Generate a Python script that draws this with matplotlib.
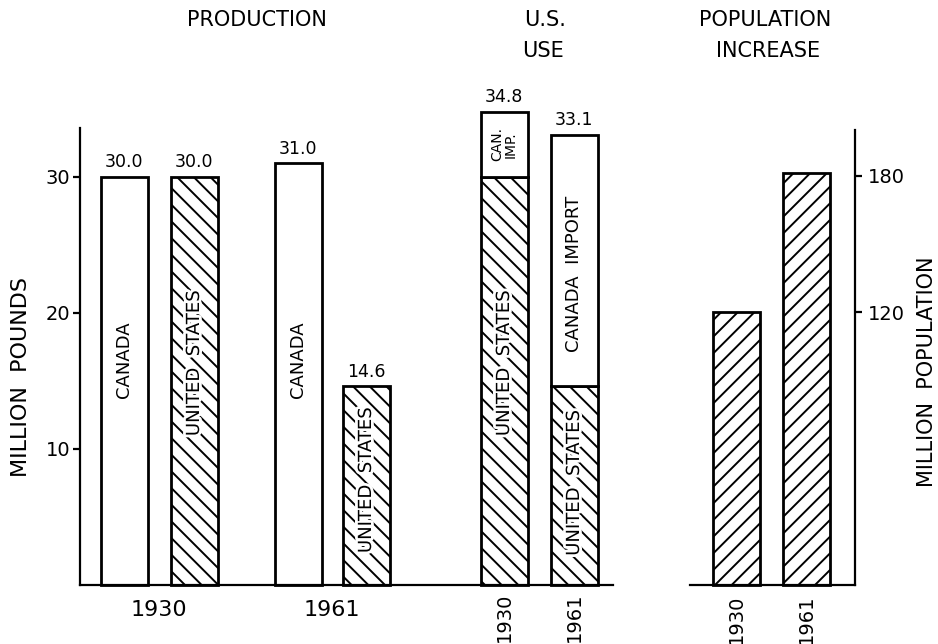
import matplotlib
matplotlib.use("Agg")
import matplotlib.pyplot as plt
import matplotlib.patheffects as pe

# ---------------- data ----------------
prod_years = ["1930", "1961"]
canada_prod = [30.0, 31.0]
us_prod = [30.0, 14.6]

use_years = ["1930", "1961"]
use_us = [30.0, 14.6]
use_canada_import = [4.8, 18.5]

pop_years = ["1930", "1961"]
population = [120, 181]

left_ticks = [10, 20, 30]
right_ticks = [120, 180]

# ---------------- style ----------------
plt.rcParams["font.family"] = ["DejaVu Sans"]
plt.rcParams["hatch.linewidth"] = 1.4
plt.rcParams["hatch.color"] = "black"

W, H = 938, 644
fig = plt.figure(figsize=(W / 100, H / 100), dpi=100)


def fx(px):
    return px / W


def fy(py):
    return 1 - py / H


base_y = 585
axL = fig.add_axes([fx(80), fy(base_y), (613 - 80) / W, (base_y - 128) / H])
axR = fig.add_axes([fx(690), fy(base_y), (855 - 690) / W, (base_y - 130) / H])

axL.set_xlim(0, 533)
axL.set_ylim(0, 33.6)
bw = 47
canada_x = [44, 218]
us_x = [114, 286]
use_x = [424, 494]

edge = dict(edgecolor="black", linewidth=2.0, clip_on=False)
white_stroke = [pe.withStroke(linewidth=4, foreground="white")]

axL.bar(canada_x, canada_prod, width=bw, color="white", **edge)
axL.bar(us_x, us_prod, width=bw, color="white", hatch="\\\\", **edge)
axL.bar(use_x, use_us, width=bw, color="white", hatch="\\\\", **edge)
axL.bar(use_x, use_canada_import, bottom=use_us, width=bw, color="white", **edge)

VAL_FS = 12.5


def value_label(ax, x, v):
    ax.annotate(f"{v:.1f}", xy=(x, v), xytext=(0, 4), textcoords="offset points",
                ha="center", va="bottom", fontsize=VAL_FS, annotation_clip=False)


for x, v in zip(canada_x, canada_prod):
    value_label(axL, x, v)
for x, v in zip(us_x, us_prod):
    value_label(axL, x, v)
for x, a, b in zip(use_x, use_us, use_canada_import):
    value_label(axL, x, a + b)

IN_FS = 13
for x in canada_x:
    axL.text(x, 16.6, "CANADA", rotation=90, ha="center", va="center", fontsize=IN_FS)
axL.text(us_x[0], 16.3, "UNITED  STATES", rotation=90, ha="center", va="center",
         fontsize=IN_FS, path_effects=white_stroke)
axL.text(us_x[1], 7.7, "UNITED  STATES", rotation=90, ha="center", va="center",
         fontsize=IN_FS, path_effects=white_stroke)
axL.text(use_x[0], 16.3, "UNITED  STATES", rotation=90, ha="center", va="center",
         fontsize=IN_FS, path_effects=white_stroke)
axL.text(use_x[1], 7.5, "UNITED  STATES", rotation=90, ha="center", va="center",
         fontsize=IN_FS, path_effects=white_stroke)
axL.text(use_x[0], use_us[0] + use_canada_import[0] / 2, "CAN.\nIMP.", rotation=90,
         ha="center", va="center", fontsize=10, linespacing=1.0, clip_on=False)
axL.text(use_x[1], 22.9, "CANADA  IMPORT", rotation=90,
         ha="center", va="center", fontsize=IN_FS)

for s in ["top", "right"]:
    axL.spines[s].set_visible(False)
axL.spines["left"].set_linewidth(1.6)
axL.spines["bottom"].set_linewidth(1.6)
axL.set_yticks(left_ticks)
axL.set_yticklabels([str(t) for t in left_ticks], fontsize=14)
axL.tick_params(axis="y", direction="out", length=5, width=1.6, pad=2)
axL.set_xticks([])

xt = axL.get_xaxis_transform()
for yr, a, b in zip(prod_years, canada_x, us_x):
    axL.annotate(yr, xy=((a + b) / 2, 0), xycoords=xt, xytext=(0, -18),
                 textcoords="offset points", ha="center", va="center", fontsize=16)
for yr, x in zip(use_years, use_x):
    axL.annotate(yr, xy=(x, 0), xycoords=xt, xytext=(0, -5.5),
                 textcoords="offset points", rotation=90, ha="center", va="top", fontsize=14)

# ---------------- population panel ----------------
axR.set_xlim(0, 165)
axR.set_ylim(0, 200)
pop_x = [46.5, 116]
axR.bar(pop_x, population, width=bw, color="white", hatch="//", **edge)
for s in ["top", "left"]:
    axR.spines[s].set_visible(False)
axR.spines["right"].set_linewidth(1.6)
axR.spines["bottom"].set_linewidth(1.6)
axR.yaxis.tick_right()
axR.set_yticks(right_ticks)
axR.set_yticklabels([str(t) for t in right_ticks], fontsize=14)
axR.tick_params(axis="y", direction="out", length=5, width=1.6, pad=4)
axR.set_xticks([])
xtr = axR.get_xaxis_transform()
for yr, x in zip(pop_years, pop_x):
    axR.annotate(yr, xy=(x, 0), xycoords=xtr, xytext=(0, -7),
                 textcoords="offset points", rotation=90, ha="center", va="top", fontsize=14)

# ---------------- axis titles ----------------
fig.text(fx(21), fy(377), "MILLION  POUNDS", rotation=90, ha="center", va="center", fontsize=16)
fig.text(fx(927), fy(372), "MILLION  POPULATION", rotation=90, ha="center", va="center",
         fontsize=15)

# ---------------- headings ----------------
HFS = 15
fig.text(fx(257), fy(20), "PRODUCTION", ha="center", va="center", fontsize=HFS)
fig.text(fx(545), fy(20), "U.S.", ha="center", va="center", fontsize=HFS)
fig.text(fx(543), fy(51), "USE", ha="center", va="center", fontsize=HFS)
fig.text(fx(765), fy(20), "POPULATION", ha="center", va="center", fontsize=HFS)
fig.text(fx(768), fy(51), "INCREASE", ha="center", va="center", fontsize=HFS)

fig.savefig("out.png", dpi=100)
